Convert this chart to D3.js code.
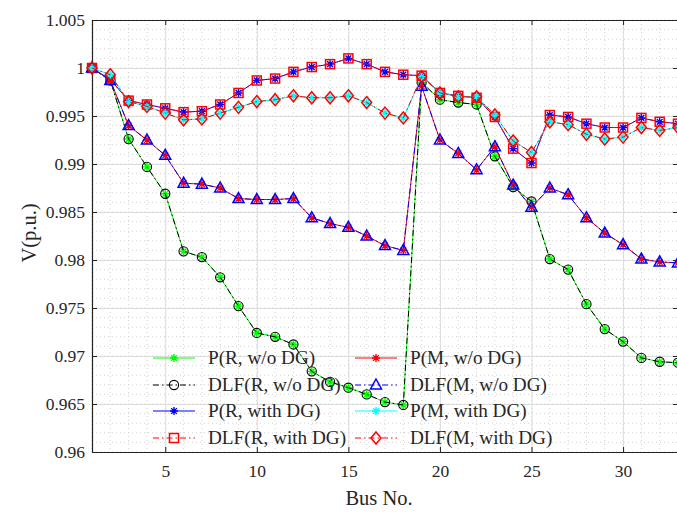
<!DOCTYPE html>
<html>
<head>
<meta charset="utf-8">
<script src="https://cdn.jsdelivr.net/npm/d3@7"></script>
<style>
    body { margin: 0; background: #fff; }
    text { font-family: "Liberation Serif", serif; fill: #262626; }
</style>
</head>
<body>
<div id="vis"></div>
<script>
// Data
const buses = d3.range(1, 34);

const vRadial = [1.0000, 0.9987, 0.9926, 0.9897, 0.9869, 0.9809, 0.9803, 0.9782, 0.9752, 0.9724,
    0.9720, 0.9712, 0.9684, 0.9673, 0.9667, 0.9660, 0.9652, 0.9649, 0.9985, 0.9967,
    0.9964, 0.9962, 0.9908, 0.9876, 0.9861, 0.9801, 0.9790, 0.9754, 0.9728, 0.9715,
    0.9698, 0.9694, 0.9693];
const vMeshed = [1.0000, 0.9987, 0.9940, 0.9925, 0.9909, 0.9880, 0.9879, 0.9875, 0.9864, 0.9863,
    0.9863, 0.9864, 0.9844, 0.9838, 0.9834, 0.9825, 0.9815, 0.9810, 0.9981, 0.9925,
    0.9911, 0.9894, 0.9918, 0.9878, 0.9855, 0.9875, 0.9868, 0.9844, 0.9828, 0.9816,
    0.9801, 0.9798, 0.9797];
const vRadialDG = [1.0000, 0.9988, 0.9966, 0.9962, 0.9958, 0.9954, 0.9955, 0.9962, 0.9974, 0.9987,
    0.9989, 0.9996, 1.0001, 1.0004, 1.0010, 1.0004, 0.9996, 0.9993, 0.9992, 0.9974,
    0.9971, 0.9969, 0.9949, 0.9916, 0.9901, 0.9951, 0.9949, 0.9942, 0.9938, 0.9938,
    0.9948, 0.9944, 0.9942];
const vMeshedDG = [1.0000, 0.9993, 0.9965, 0.9960, 0.9953, 0.9946, 0.9947, 0.9953, 0.9959, 0.9965,
    0.9967, 0.9971, 0.9969, 0.9969, 0.9971, 0.9964, 0.9953, 0.9948, 0.9991, 0.9974,
    0.9970, 0.9970, 0.9951, 0.9924, 0.9912, 0.9944, 0.9941, 0.9931, 0.9926, 0.9928,
    0.9938, 0.9935, 0.9938];

const seriesNames = ['P(R, w/o DG)', 'DLF(R, w/o DG)', 'P(R, with DG)', 'DLF(R, with DG)',
    'P(M, w/o DG)', 'DLF(M, w/o DG)', 'P(M, with DG)', 'DLF(M, with DG)'];
const seriesValues = [vRadial, vRadial, vRadialDG, vRadialDG, vMeshed, vMeshed, vMeshedDG, vMeshedDG];
const seriesColors = ['#00ff00', '#000000', '#0000ff', '#ff0000', '#ff0000', '#0000ff', '#00ffff', '#ff0000'];
const seriesMarkers = ['star', 'circle', 'star', 'square', 'star', 'triangle', 'star', 'diamond'];
const seriesDash = [null, '6,3,1.5,3', null, '6,3,1.5,3', null, '6,3,1.5,3', null, '6,3,1.5,3'];

const yTicks = d3.range(0, 10).map(i => +(0.96 + i * 0.005).toFixed(3));
const xTicks = [5, 10, 15, 20, 25, 30];

// Layout
const W = 677, H = 512;
const margin = { top: 20, right: -1, bottom: 60, left: 92 };
const width = W - margin.left - margin.right;
const height = H - margin.top - margin.bottom;

const svg = d3.select('#vis')
    .append('svg')
    .attr('width', W)
    .attr('height', H)
    .append('g')
    .attr('transform', `translate(${margin.left},${margin.top})`);

const xScale = d3.scaleLinear().domain([1, 33]).range([0, width]);
const yScale = d3.scaleLinear().domain([0.96, 1.005]).range([height, 0]);

// minor grid (dotted)
svg.append('g')
    .selectAll('line')
    .data(buses)
    .join('line')
    .attr('x1', d => xScale(d)).attr('x2', d => xScale(d))
    .attr('y1', 0).attr('y2', height)
    .attr('stroke', '#c8c8c8').attr('stroke-width', 0.8)
    .attr('stroke-dasharray', '1,3');

svg.append('g')
    .selectAll('line')
    .data(d3.range(0, 46).map(i => 0.96 + i * 0.001))
    .join('line')
    .attr('x1', 0).attr('x2', width)
    .attr('y1', d => yScale(d)).attr('y2', d => yScale(d))
    .attr('stroke', '#c8c8c8').attr('stroke-width', 0.8)
    .attr('stroke-dasharray', '1,3');

// major grid
svg.append('g')
    .attr('class', 'grid')
    .attr('transform', `translate(0,${height})`)
    .call(d3.axisBottom(xScale).tickValues(xTicks).tickSize(-height).tickFormat(''))
    .call(g => g.select('.domain').remove())
    .call(g => g.selectAll('line').attr('stroke', '#dcdcdc'));

svg.append('g')
    .attr('class', 'grid')
    .call(d3.axisLeft(yScale).tickValues(yTicks).tickSize(-width).tickFormat(''))
    .call(g => g.select('.domain').remove())
    .call(g => g.selectAll('line').attr('stroke', '#dcdcdc'));

// axes
const xAxis = svg.append('g')
    .attr('transform', `translate(0,${height})`)
    .call(d3.axisBottom(xScale).tickValues(xTicks).tickSizeInner(-5).tickSizeOuter(0).tickPadding(13));
const yAxis = svg.append('g')
    .call(d3.axisLeft(yScale).tickValues(yTicks).tickSizeInner(-5).tickSizeOuter(0).tickPadding(7)
        .tickFormat(d => String(+d.toFixed(3))));
svg.append('g')
    .call(d3.axisTop(xScale).tickValues(xTicks).tickSizeInner(-5).tickSizeOuter(0).tickFormat(''));
svg.append('g')
    .attr('transform', `translate(${width},0)`)
    .call(d3.axisRight(yScale).tickValues(yTicks).tickSizeInner(-5).tickSizeOuter(0).tickFormat(''));

svg.selectAll('.domain').attr('stroke', '#222').attr('stroke-width', 1.2);
svg.selectAll('.tick line').filter(function() { return !this.closest('.grid'); })
    .attr('stroke', '#222');
xAxis.selectAll('text').style('font-size', '17.5px').attr('fill', '#262626');
yAxis.selectAll('text').style('font-size', '17.5px').attr('fill', '#262626');

// axis labels
svg.append('text')
    .attr('x', width / 2 - 6)
    .attr('y', height + 53)
    .attr('text-anchor', 'middle')
    .style('font-size', '20.5px')
    .text('Bus No.');

svg.append('text')
    .attr('transform', 'rotate(-90)')
    .attr('x', -height / 2 + 3)
    .attr('y', -56)
    .attr('text-anchor', 'middle')
    .style('font-size', '20.5px')
    .text('V(p.u.)');

// markers
function drawMarker(g, type, color) {
    if (type === 'star') {
        const r = 4;
        const a = r * 0.72;
        g.append('path')
            .attr('d', `M${-r},0L${r},0M0,${-r}L0,${r}M${-a},${-a}L${a},${a}M${-a},${a}L${a},${-a}`)
            .attr('stroke', color).attr('stroke-width', 1.4).attr('fill', 'none');
    } else if (type === 'circle') {
        g.append('circle').attr('r', 4.6)
            .attr('stroke', color).attr('stroke-width', 1.1).attr('fill', 'none');
    } else if (type === 'square') {
        g.append('rect').attr('x', -4.5).attr('y', -4.5).attr('width', 9).attr('height', 9)
            .attr('stroke', color).attr('stroke-width', 1.5).attr('fill', 'none');
    } else if (type === 'triangle') {
        g.append('path').attr('d', 'M0,-6L5.5,4L-5.5,4Z')
            .attr('stroke', color).attr('stroke-width', 1.5).attr('fill', 'none');
    } else if (type === 'diamond') {
        g.append('path').attr('d', 'M0,-6L5,0L0,6L-5,0Z')
            .attr('stroke', color).attr('stroke-width', 1.5).attr('fill', 'none');
    }
}

const line = d3.line()
    .x((d, i) => xScale(buses[i]))
    .y(d => yScale(d));

const plot = svg.append('g');

seriesNames.forEach((name, k) => {
    const sg = plot.append('g');
    sg.append('path')
        .datum(seriesValues[k])
        .attr('d', line)
        .attr('fill', 'none')
        .attr('stroke', seriesColors[k])
        .attr('stroke-width', 1)
        .attr('stroke-dasharray', seriesDash[k]);
    sg.selectAll('.mk')
        .data(seriesValues[k])
        .join('g')
        .attr('class', 'mk')
        .attr('transform', (d, i) => `translate(${xScale(buses[i])},${yScale(d)})`)
        .each(function() { drawMarker(d3.select(this), seriesMarkers[k], seriesColors[k]); });
});

// legend (two columns, no box)
const legendCols = [61, 263];
const legendRows = [338, 365, 391, 418];
const legend = svg.append('g');
seriesNames.forEach((name, k) => {
    const col = Math.floor(k / 4);
    const row = k % 4;
    const lg = legend.append('g')
        .attr('transform', `translate(${legendCols[col]},${legendRows[row]})`);
    lg.append('line')
        .attr('x1', 0).attr('x2', 42)
        .attr('stroke', seriesColors[k])
        .attr('stroke-width', 1)
        .attr('stroke-dasharray', seriesDash[k]);
    drawMarker(lg.append('g').attr('transform', 'translate(21,0)'), seriesMarkers[k], seriesColors[k]);
    lg.append('text')
        .attr('x', 55)
        .attr('y', 6)
        .style('font-size', '19.2px')
        .text(name);
});
</script>
</body>
</html>
